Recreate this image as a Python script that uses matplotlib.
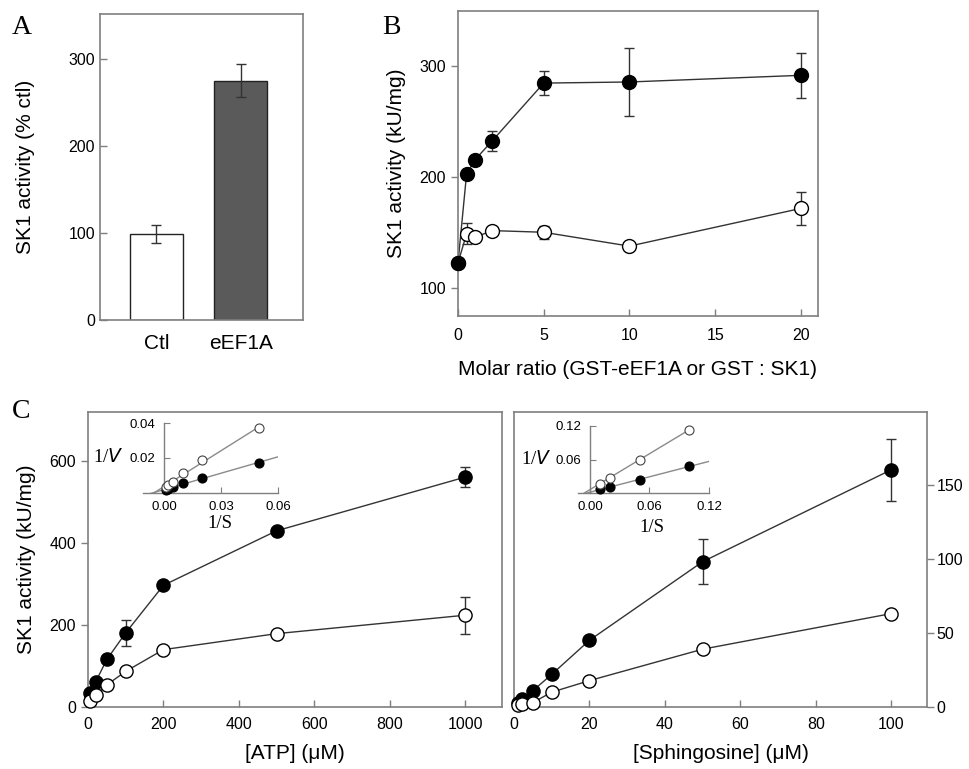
import numpy as np
import matplotlib
matplotlib.use("Agg")
import matplotlib.pyplot as plt

plt.rcParams['font.family'] = 'Liberation Sans'
plt.rcParams['axes.linewidth'] = 1.2

# ---------------- data ----------------
# panel A
bar_labels = ["Ctl", "eEF1A"]
bar_values = [99, 275]
bar_errors = [10, 19]

# panel B
ratio_gst_eef1a = [0, 0.5, 1, 2, 5, 10, 20]
act_gst_eef1a = [123, 203, 216, 233, 285, 286, 292]
err_gst_eef1a = [0, 0, 0, 9, 11, 31, 20]
ratio_gst = [0, 0.5, 1, 2, 5, 10, 20]
act_gst = [123, 149, 146, 152, 150.5, 138, 172]
err_gst = [0, 9.5, 0, 0, 6, 0, 15]

# panel C, ATP
atp = [5, 20, 50, 100, 200, 500, 1000]
atp_filled = [35, 61, 116, 181, 297, 430, 561]
atp_filled_err = [0, 0, 0, 32, 0, 0, 24]
atp_open = [14, 29, 54, 87, 140, 179, 224]
atp_open_err = [0, 0, 0, 0, 0, 0, 45]
atp_inv_s = [0.001, 0.002, 0.005, 0.01, 0.02, 0.05]
atp_inv_v_filled = [0.0017, 0.0023, 0.0033, 0.0057, 0.0088, 0.0172]
atp_inv_v_open = [0.0035, 0.0045, 0.0065, 0.0115, 0.019, 0.037]

# panel C, sphingosine
sph = [1, 2, 5, 10, 20, 50, 100]
sph_filled = [2.5, 5.5, 11, 22, 45, 98, 160]
sph_filled_err = [0, 0, 0, 0, 0, 15, 21]
sph_open = [1.5, 2, 3, 10, 17.8, 39, 63]
sph_open_err = [0, 0, 0, 0, 0, 0, 0]
sph_inv_s = [0.01, 0.02, 0.05, 0.1]
sph_inv_v_filled = [0.0065, 0.011, 0.023, 0.048]
sph_inv_v_open = [0.017, 0.027, 0.06, 0.113]

# ---------------- style ----------------
SPINE = '#7f7f7f'
LINE = '#333333'
FIT = '#8a8a8a'
TICK_FS = 11.5
LAB_FS = 15
W, H = 970, 769


def box(l, t, r, b):
    return [l / W, 1 - b / H, (r - l) / W, (b - t) / H]


def style_axes(ax):
    for s in ax.spines.values():
        s.set_color(SPINE)
        s.set_linewidth(1.2)
    ax.tick_params(colors='black', labelsize=TICK_FS, width=1.0, length=5)
    ax.tick_params(axis='both', color=SPINE)


def series(ax, x, y, err, filled, ms=9.5):
    ax.errorbar(x, y, yerr=err, fmt='-', color=LINE, lw=1.0, ecolor='#333333',
                elinewidth=1.0, capsize=3.5, capthick=1.0, zorder=2)
    ax.plot(x, y, 'o', ms=ms, mfc='black' if filled else 'white',
            mec='black', mew=1.0, zorder=3, clip_on=False)


def inset(ax, xs, yf, yo, xlim, ylim, xticks, yticks, fit_end_f, fit_end_o):
    ax.set_xlim(xlim)
    ax.set_ylim(ylim)
    ax.patch.set_alpha(0)
    ax.spines['top'].set_visible(False)
    ax.spines['right'].set_visible(False)
    ax.spines['left'].set_position(('data', 0))
    for s in ('left', 'bottom'):
        ax.spines[s].set_color(SPINE)
        ax.spines[s].set_linewidth(1.0)
    ax.set_xticks(xticks)
    ax.set_yticks(yticks)
    ax.set_xticklabels(['%.2f' % v for v in xticks])
    ax.set_yticklabels(['%.2f' % v for v in yticks])
    ax.tick_params(direction='in', length=4, color=SPINE, labelsize=9.5, pad=6)
    # Lineweaver-Burk fit lines (clipped at 1/V = 0)
    for ys, end in ((yf, fit_end_f), (yo, fit_end_o)):
        k, b = np.polyfit(xs, ys, 1)
        fx = np.array([xlim[0] - 0.02, end])
        ax.plot(fx, k * fx + b, color=FIT, lw=1.0, zorder=1)
    ax.plot(xs, yf, 'o', ms=6.5, mfc='black', mec='black', mew=0.8, zorder=3, clip_on=False)
    ax.plot(xs, yo, 'o', ms=6.5, mfc='white', mec='#444444', mew=0.8, zorder=3, clip_on=False)


fig = plt.figure(figsize=(9.7, 7.69), dpi=100)

# ---------------- A ----------------
axA = fig.add_axes(box(100, 14, 303, 320))
style_axes(axA)
xa = np.arange(len(bar_labels))
axA.bar(xa, bar_values, width=0.63, color=['white', '#5a5a5a'], edgecolor='#222222',
        linewidth=1.0, zorder=2)
axA.errorbar(xa, bar_values, yerr=bar_errors, fmt='none', ecolor='#333333',
             elinewidth=1.0, capsize=3.5, capthick=1.0, zorder=3)
axA.set_xlim(-0.67, 1.74)
axA.set_ylim(0, 352)
axA.set_yticks([0, 100, 200, 300])
axA.set_xticks(xa)
axA.set_xticklabels(bar_labels, fontsize=15)
axA.tick_params(axis='x', length=0, pad=10)
axA.tick_params(axis='y', direction='in')
axA.set_ylabel('SK1 activity (% ctl)', fontsize=LAB_FS, labelpad=24)
fig.text(12 / W, 1 - 34 / H, 'A', family='Liberation Serif', fontsize=20)

# ---------------- B ----------------
axB = fig.add_axes(box(458, 11, 818, 316))
style_axes(axB)
series(axB, ratio_gst, act_gst, err_gst, False, ms=10)
series(axB, ratio_gst_eef1a, act_gst_eef1a, err_gst_eef1a, True, ms=10)
axB.set_xlim(0, 21)
axB.set_ylim(75, 350)
axB.set_xticks([0, 5, 10, 15, 20])
axB.set_yticks([100, 200, 300])
axB.tick_params(axis='x', direction='in', pad=9)
axB.tick_params(axis='y', direction='out')
axB.set_xlabel('Molar ratio (GST-eEF1A or GST : SK1)', fontsize=LAB_FS, labelpad=12)
axB.set_ylabel('SK1 activity (kU/mg)', fontsize=LAB_FS, labelpad=10)
fig.text(382 / W, 1 - 34 / H, 'B', family='Liberation Serif', fontsize=20)

# ---------------- C left ----------------
axC1 = fig.add_axes(box(88, 412, 502, 707))
style_axes(axC1)
series(axC1, atp, atp_filled, atp_filled_err, True)
series(axC1, atp, atp_open, atp_open_err, False)
axC1.set_xlim(0, 1098)
axC1.set_ylim(0, 720)
axC1.set_xticks([0, 200, 400, 600, 800, 1000])
axC1.set_yticks([0, 200, 400, 600])
axC1.tick_params(axis='x', direction='in', pad=7)
axC1.tick_params(axis='y', direction='out')
axC1.set_xlabel('[ATP] (μM)', fontsize=LAB_FS, labelpad=9)
axC1.set_ylabel('SK1 activity (kU/mg)', fontsize=LAB_FS, labelpad=10)
fig.text(12 / W, 1 - 418 / H, 'C', family='Liberation Serif', fontsize=20)

# ---------------- C right ----------------
axC2 = fig.add_axes(box(514, 412, 927, 707))
style_axes(axC2)
series(axC2, sph, sph_filled, sph_filled_err, True)
series(axC2, sph, sph_open, sph_open_err, False)
axC2.set_xlim(0, 109.5)
axC2.set_ylim(0, 199)
axC2.set_xticks([0, 20, 40, 60, 80, 100])
axC2.set_yticks([0, 50, 100, 150])
axC2.yaxis.tick_right()
axC2.tick_params(axis='x', direction='in', pad=7)
axC2.tick_params(axis='y', direction='out', pad=2)
axC2.set_xlabel('[Sphingosine] (μM)', fontsize=LAB_FS, labelpad=9)

# ---------------- insets ----------------
axI1 = fig.add_axes(box(143, 423, 278, 493))
inset(axI1, atp_inv_s, atp_inv_v_filled, atp_inv_v_open, (-0.011, 0.06), (0, 0.04),
      [0.0, 0.03, 0.06], [0.02, 0.04], 0.06, 0.05)
axI2 = fig.add_axes(box(578, 426, 709, 493))
inset(axI2, sph_inv_s, sph_inv_v_filled, sph_inv_v_open, (-0.012, 0.12), (0, 0.12),
      [0.0, 0.06, 0.12], [0.06, 0.12], 0.12, 0.1)

serif = dict(family='Liberation Serif', fontsize=13.5, ha='center', va='center')
fig.text(108 / W, 1 - 457 / H, r'1/$\mathit{V}$', **serif)
fig.text(220 / W, 1 - 524 / H, '1/S', **serif)
fig.text(536 / W, 1 - 459 / H, r'1/$\mathit{V}$', **serif)
fig.text(652 / W, 1 - 527 / H, '1/S', **serif)

fig.savefig('out.png', dpi=100)
